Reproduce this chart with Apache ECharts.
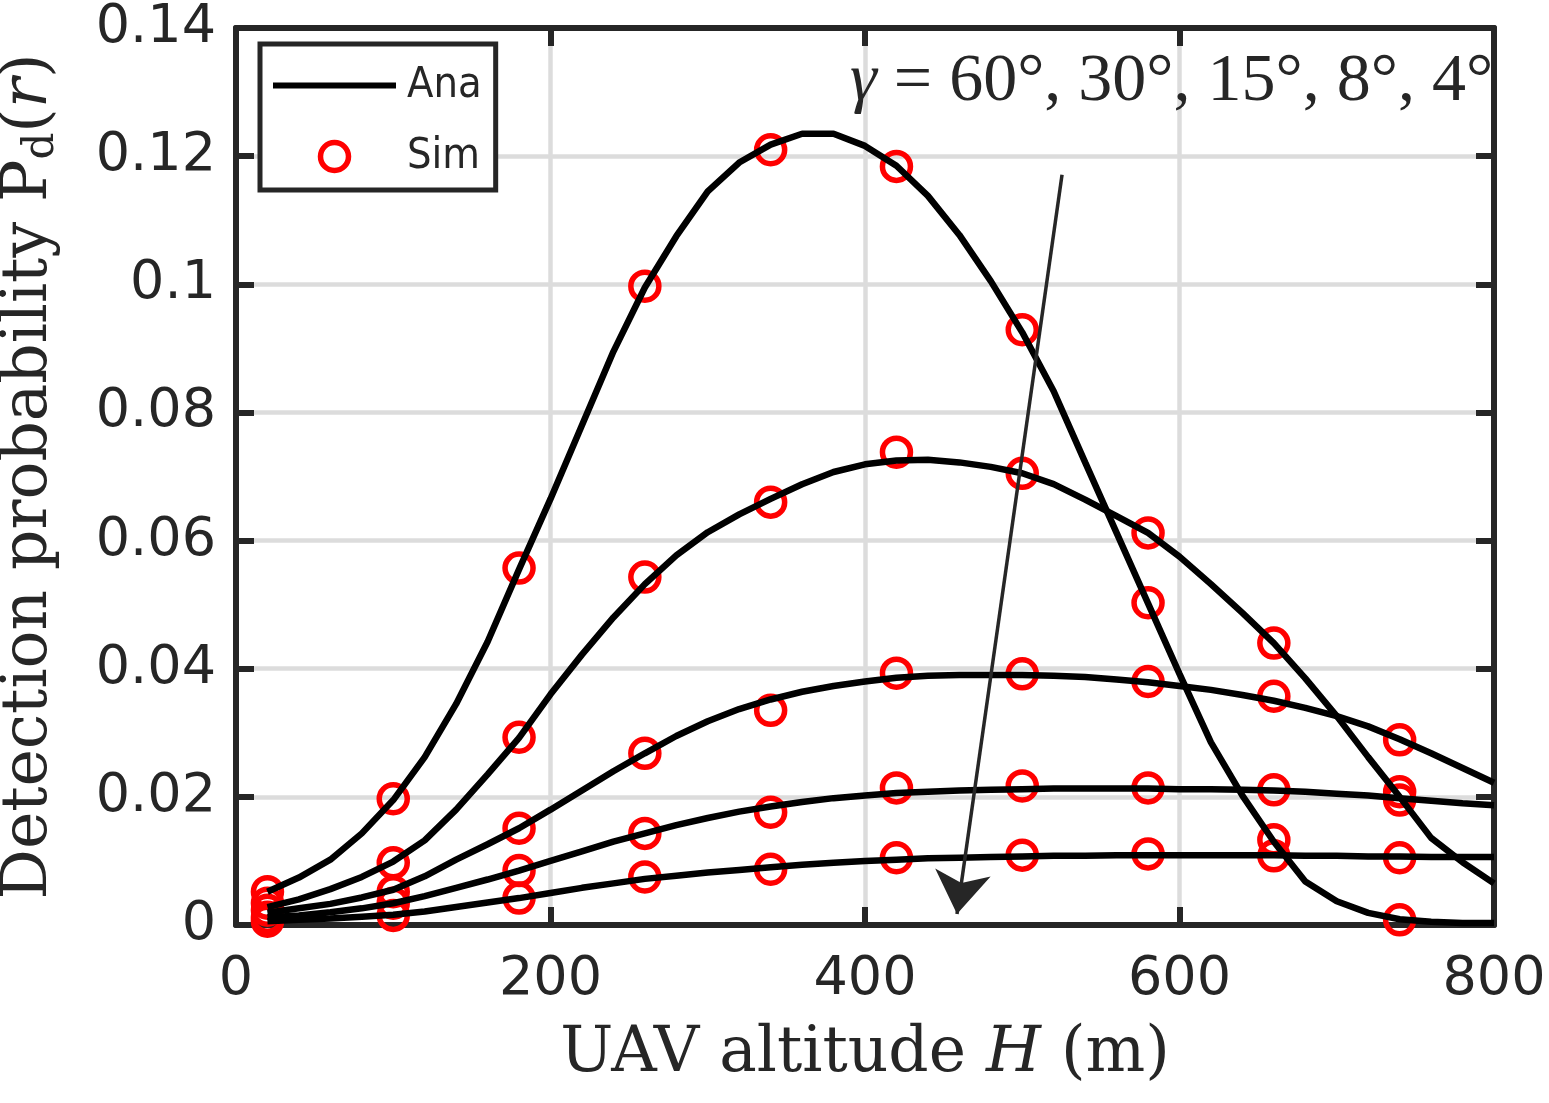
<!DOCTYPE html>
<html>
<head>
<meta charset="utf-8">
<script src="https://cdn.jsdelivr.net/npm/echarts@6/dist/echarts.min.js"></script>
<style>
html,body{margin:0;padding:0;background:#fff;}
#chart{width:1549px;height:1103px;}
</style>
</head>
<body>
<div id="chart"></div>
<script>
// ---------- data ----------
const H_ana = [20,40,60,80,100,120,140,160,180,200,220,240,260,280,300,320,340,360,380,400,
               420,440,460,480,500,520,540,560,580,600,620,640,660,680,700,720,740,760,780,800];
const ana60 = [0.0052,0.0074,0.0102,0.0143,0.0195,0.0262,0.0345,0.0442,0.0555,0.0665,
               0.0780,0.0895,0.0995,0.1075,0.1145,0.1190,0.1218,0.1235,0.1235,0.1216,
               0.1185,0.1138,0.1077,0.1005,0.0925,0.0833,0.0722,0.0612,0.0502,0.0392,
               0.0285,0.0202,0.0130,0.0068,0.0037,0.0019,0.0009,0.0005,0.0003,0.0003];
const ana30 = [0.0028,0.0040,0.0056,0.0075,0.0099,0.0132,0.0180,0.0235,0.0292,0.0360,
               0.0422,0.0480,0.0532,0.0577,0.0613,0.0641,0.0665,0.0688,0.0707,0.0719,
               0.0725,0.0726,0.0722,0.0715,0.0705,0.0688,0.0664,0.0638,0.0612,0.0575,
               0.0532,0.0487,0.0440,0.0385,0.0326,0.0262,0.0200,0.0136,0.0098,0.0065];
const ana15 = [0.0019,0.0026,0.0033,0.0043,0.0055,0.0076,0.0102,0.0126,0.0151,0.0180,
               0.0210,0.0240,0.0268,0.0295,0.0318,0.0337,0.0352,0.0364,0.0373,0.0380,
               0.0386,0.0389,0.0390,0.0390,0.0390,0.0389,0.0387,0.0383,0.0379,0.0373,
               0.0367,0.0359,0.0350,0.0339,0.0326,0.0310,0.0290,0.0268,0.0245,0.0222];
const ana8  = [0.0012,0.0015,0.0020,0.0026,0.0034,0.0045,0.0058,0.0071,0.0085,0.0100,
               0.0115,0.0130,0.0143,0.0156,0.0167,0.0177,0.0185,0.0192,0.0198,0.0202,
               0.0206,0.0208,0.0210,0.0211,0.0212,0.0213,0.0213,0.0213,0.0213,0.0212,
               0.0212,0.0211,0.0210,0.0208,0.0205,0.0202,0.0198,0.0194,0.0190,0.0187];
const ana4  = [0.0006,0.0008,0.0010,0.0013,0.0016,0.0021,0.0028,0.0035,0.0042,0.0050,
               0.0058,0.0065,0.0072,0.0077,0.0082,0.0086,0.0090,0.0094,0.0097,0.0100,
               0.0102,0.0104,0.0105,0.0106,0.0107,0.0108,0.0108,0.0109,0.0109,0.0109,
               0.0109,0.0109,0.0109,0.0108,0.0108,0.0107,0.0107,0.0106,0.0106,0.0106];

const H_sim = [20,100,180,260,340,420,500,580,660,740];
const sim60 = [0.0052,0.0197,0.0557,0.0997,0.1210,0.1184,0.0929,0.0503,0.0133,0.0008];
const sim30 = [0.0034,0.0097,0.0293,0.0543,0.0660,0.0738,0.0705,0.0612,0.0440,0.0208];
const sim15 = [0.0023,0.0052,0.0151,0.0268,0.0335,0.0393,0.0392,0.0380,0.0357,0.0289];
const sim8  = [0.0012,0.0034,0.0085,0.0143,0.0176,0.0214,0.0217,0.0214,0.0211,0.0195];
const sim4  = [0.0006,0.0015,0.0042,0.0075,0.0087,0.0105,0.0109,0.0111,0.0108,0.0105];

const xTicks = {min: 0, max: 800, interval: 200};
const yTicks = {min: 0, max: 0.14, interval: 0.02};
const arrowFrom = [525.3, 0.1171];
const arrowTo   = [458.5, 0.0017];

// ---------- build ----------
const zip = (xs, ys) => xs.map((x, i) => [x, ys[i]]);
const AX = '#262626';
const SERIF = '"DejaVu Serif","Liberation Serif",serif';
const chart = echarts.init(document.getElementById('chart'), null, {renderer: 'canvas'});

const simSets = [sim60, sim30, sim15, sim8, sim4];
const anaSets = [ana60, ana30, ana15, ana8, ana4];

const series = [];
simSets.forEach(s => series.push({
  name: 'Sim', type: 'scatter', data: zip(H_sim, s),
  symbol: 'circle', symbolSize: 28,
  itemStyle: {color: 'rgba(0,0,0,0)', borderColor: '#ff0000', borderWidth: 5.5, opacity: 1},
  emphasis: {disabled: true}, silent: true
}));
anaSets.forEach((s, i) => {
  const o = {
    name: 'Ana', type: 'line', data: zip(H_ana, s), symbol: 'none', showSymbol: false,
    lineStyle: {color: '#000', width: 6.5}, itemStyle: {color: '#000'},
    emphasis: {disabled: true}, silent: true
  };
  if (i === 0) {
    o.markLine = {
      silent: true, symbol: ['none', 'arrow'], symbolSize: 42,
      lineStyle: {color: AX, width: 3.5, type: 'solid'},
      label: {show: false}, emphasis: {disabled: true},
      data: [[{coord: arrowFrom}, {coord: arrowTo}]]
    };
  }
  series.push(o);
});

const axisCommon = {
  axisLine: {show: true, onZero: false, lineStyle: {color: AX, width: 6}},
  axisTick: {show: true, inside: true, length: 18, lineStyle: {color: AX, width: 6}},
};

const option = {
  backgroundColor: '#fff',
  animation: false,
  grid: {left: 236, right: 55, top: 28, bottom: 178, containLabel: false, outerBoundsMode: 'none'},
  legend: {
    data: [
      {name: 'Ana', icon: 'path://M0,0 L100,0 L100,4.8 L0,4.8 Z', itemStyle: {color: '#000', borderWidth: 0}},
      {name: 'Sim'}
    ],
    orient: 'vertical', left: 260, top: 44,
    itemWidth: 123, itemHeight: 28, itemGap: 28, symbolKeepAspect: true,
    backgroundColor: '#fff', borderColor: AX, borderWidth: 5, borderRadius: 0,
    padding: [20, 14, 12, 13],
    itemStyle: {borderWidth: 5.5, opacity: 1},
    textStyle: {fontFamily: '"Liberation Sans Narrow","DejaVu Sans Condensed","DejaVu Sans"', fontSize: 43,
                color: AX, lineHeight: 40, padding: [0, 0, 0, 6]},
    selectedMode: false, z: 10
  },
  xAxis: [
    Object.assign({
      type: 'value', position: 'bottom', min: xTicks.min, max: xTicks.max, interval: xTicks.interval,
      splitLine: {show: true, lineStyle: {color: '#dcdcdc', width: 4.5}},
      axisLabel: {fontFamily: 'DejaVu Sans', fontSize: 54, color: AX, margin: 28},
      name: '{r|UAV altitude }{i|H}{r| (m)}', nameLocation: 'middle', nameGap: 98,
      nameTextStyle: {
        rich: {
          r: {fontFamily: SERIF, fontSize: 63, color: AX},
          i: {fontFamily: SERIF, fontSize: 63, fontStyle: 'italic', color: AX}
        }
      }
    }, axisCommon),
    Object.assign({
      type: 'value', position: 'top', min: xTicks.min, max: xTicks.max, interval: xTicks.interval,
      splitLine: {show: false}, axisLabel: {show: false}
    }, axisCommon)
  ],
  yAxis: [
    Object.assign({
      type: 'value', position: 'left', min: yTicks.min, max: yTicks.max, interval: yTicks.interval,
      splitLine: {show: true, lineStyle: {color: '#dcdcdc', width: 4.5}},
      axisLabel: {fontFamily: 'DejaVu Sans', fontSize: 54, color: AX, margin: 20,
                  formatter: v => String(+v.toFixed(2))},
      name: '{r|Detection probability P}{s|d}{r|(}{i|r}{r|)}', nameLocation: 'middle', nameGap: 170,
      nameTextStyle: {
        rich: {
          r: {fontFamily: SERIF, fontSize: 63, color: AX, lineHeight: 72},
          i: {fontFamily: SERIF, fontSize: 63, fontStyle: 'italic', color: AX, lineHeight: 72},
          s: {fontFamily: SERIF, fontSize: 42, color: AX, lineHeight: 42, padding: [24, 0, 0, 0]}
        }
      }
    }, axisCommon),
    Object.assign({
      type: 'value', position: 'right', min: yTicks.min, max: yTicks.max, interval: yTicks.interval,
      splitLine: {show: false}, axisLabel: {show: false}
    }, axisCommon)
  ],
  graphic: [{
    type: 'text', left: 850, top: 48, z: 20, silent: true,
    style: {
      text: '{i|γ}{r| = 60°, 30°, 15°, 8°, 4°}',
      rich: {
        i: {fontFamily: '"Liberation Serif"', fontSize: 68, fontStyle: 'italic', fill: AX},
        r: {fontFamily: '"Liberation Serif"', fontSize: 68, fill: AX}
      }
    }
  }],
  series: series
};
chart.setOption(option);
</script>
</body>
</html>
